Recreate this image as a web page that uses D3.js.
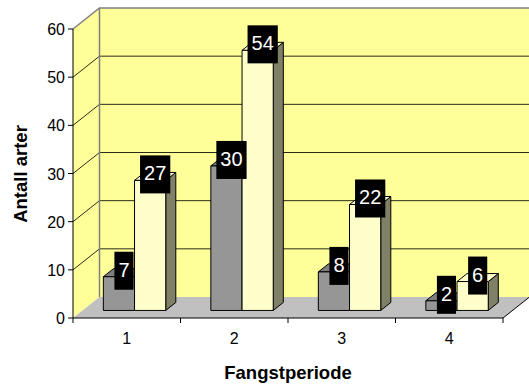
<!DOCTYPE html>
<html>
<head>
<meta charset="utf-8">
<script src="https://cdn.jsdelivr.net/npm/d3@7"></script>
<style>
  html, body { margin: 0; padding: 0; background: #fff; }
  svg { display: block; font-family: Arial, "Liberation Sans", sans-serif; }
</style>
</head>
<body>
<svg id="chart" width="529" height="385"></svg>
<script>
// Number of species per catch period, two series per period
const categories = ["1", "2", "3", "4"];
const seriesA = [7, 30, 8, 2];
const seriesB = [27, 54, 22, 6];
const yTicks = [0, 10, 20, 30, 40, 50, 60];
const xTitle = "Fangstperiode";
const yTitle = "Antall arter";

const svg = d3.select("#chart");

// Front plane of the 3-D box
const x = d3.scaleBand().domain(categories).range([73, 503]);
const y = d3.scaleLinear().domain([0, 60]).range([318, 29]);
// Inner scale that places the two columns inside one category band
const inner = d3.scaleBand().domain([0, 1]).range([20.8, 83.2]);

// Depth projection: z runs from 0 (front) to 1 (back wall)
const DX = 26.5, DY = 21;
const P = (px, py, z) => [px + z * DX, py - z * DY];
const barZ0 = 0.36, barZ1 = 0.74;

const poly = pts => "M" + pts.map(p => p.join(",")).join("L") + "Z";
const line = d3.line();

const x0 = x.range()[0], x1 = x.range()[1];
const yTop = y(60), yBot = y(0);

// Back wall
svg.append("path")
  .attr("d", poly([P(x0, yTop, 1), P(x1, yTop, 1), P(x1, yBot, 1), P(x0, yBot, 1)]))
  .attr("fill", "#ffff99");
// Left side wall
svg.append("path")
  .attr("d", poly([P(x0, yTop, 0), P(x0, yTop, 1), P(x0, yBot, 1), P(x0, yBot, 0)]))
  .attr("fill", "#ffff99");

// Gridlines on both walls
yTicks.slice(1, -1).forEach(t => {
  svg.append("path")
    .attr("d", line([P(x0, y(t), 0), P(x0, y(t), 1), P(x1, y(t), 1)]))
    .attr("fill", "none").attr("stroke", "#2b2b1a").attr("stroke-width", 1);
});

// Wall edges
svg.append("path")
  .attr("d", line([P(x0, yTop, 0), P(x0, yTop, 1), P(x1 + 2, yTop, 1)]))
  .attr("fill", "none").attr("stroke", "#808080").attr("stroke-width", 1.5);
svg.append("path")
  .attr("d", line([P(x0, yTop, 1), P(x0, yBot, 1)]))
  .attr("fill", "none").attr("stroke", "#808080").attr("stroke-width", 1.5);

// Floor
svg.append("path")
  .attr("d", poly([P(x0, yBot, 0), P(x1, yBot, 0), P(x1, yBot, 1), P(x0, yBot, 1)]))
  .attr("fill", "#c0c0c0");
svg.append("path")
  .attr("d", line([P(x1, yBot, 0), P(x1, yBot, 1)]))
  .attr("fill", "none").attr("stroke", "#000").attr("stroke-width", 1);

// Columns
const palette = [
  { front: "#969696", top: "#7d7d7d", side: "#4b4b4b" },
  { front: "#ffffcc", top: "#ffffcc", side: "#808066" }
];
const bars = [];
categories.forEach((c, ci) => {
  [seriesA[ci], seriesB[ci]].forEach((v, si) => {
    bars.push({ c, si, v });
  });
});

const gBars = svg.append("g");
bars.forEach(b => {
  const L = x(b.c) + inner(b.si);
  const R = L + inner.bandwidth();
  const T = y(b.v), B = y(0);
  const col = palette[b.si];
  const g = gBars.append("g").attr("stroke", "#000").attr("stroke-width", 1).attr("stroke-linejoin", "round");
  g.append("path")
    .attr("d", poly([P(R, T, barZ0), P(R, T, barZ1), P(R, B, barZ1), P(R, B, barZ0)]))
    .attr("fill", col.side);
  g.append("path")
    .attr("d", poly([P(L, T, barZ0), P(R, T, barZ0), P(R, T, barZ1), P(L, T, barZ1)]))
    .attr("fill", col.top);
  g.append("path")
    .attr("d", poly([P(L, T, barZ0), P(R, T, barZ0), P(R, B, barZ0), P(L, B, barZ0)]))
    .attr("fill", col.front);
});

// Y axis
svg.append("line")
  .attr("x1", x0).attr("x2", x0).attr("y1", yTop).attr("y2", yBot)
  .attr("stroke", "#000").attr("stroke-width", 1);
const gy = svg.append("g");
yTicks.forEach(t => {
  gy.append("line").attr("x1", x0 - 5).attr("x2", x0).attr("y1", y(t)).attr("y2", y(t))
    .attr("stroke", "#000");
  gy.append("text").attr("x", x0 - 8).attr("y", y(t) + 6)
    .attr("text-anchor", "end").attr("font-size", 16).attr("fill", "#000").text(t);
});

// X axis along the floor front edge
svg.append("line")
  .attr("x1", x0).attr("x2", x1).attr("y1", yBot).attr("y2", yBot)
  .attr("stroke", "#000").attr("stroke-width", 1);
const gx = svg.append("g");
categories.concat([null]).forEach(c => {
  const px = c === null ? x1 : x(c);
  gx.append("line").attr("x1", px).attr("x2", px).attr("y1", yBot).attr("y2", yBot + 5)
    .attr("stroke", "#000");
});
categories.forEach(c => {
  gx.append("text").attr("x", x(c) + x.bandwidth() / 2).attr("y", 344)
    .attr("text-anchor", "middle").attr("font-size", 16).attr("fill", "#000").text(c);
});

// Data labels: black boxes centred on each column's top face
const gLab = svg.append("g");
bars.forEach(b => {
  const L = x(b.c) + inner(b.si);
  const [cx, cyTop] = P(L + inner.bandwidth() / 2, y(b.v), (barZ0 + barZ1) / 2);
  const cy = cyTop - 2;
  const t = gLab.append("text").attr("x", cx).attr("y", cy + 6)
    .attr("text-anchor", "middle").attr("font-size", 20).attr("fill", "#fff").text(b.v);
  const w = t.node().getComputedTextLength() + 8;
  gLab.insert("rect", () => t.node())
    .attr("x", cx - w / 2).attr("y", cy - 19).attr("width", w).attr("height", 38)
    .attr("fill", "#000");
});

// Axis titles
svg.append("text").attr("x", 288).attr("y", 379)
  .attr("text-anchor", "middle").attr("font-size", 18.5).attr("font-weight", "bold")
  .attr("fill", "#000").text(xTitle);
svg.append("text").attr("transform", "translate(27,174) rotate(-90)")
  .attr("text-anchor", "middle").attr("font-size", 18.5).attr("font-weight", "bold")
  .attr("fill", "#000").text(yTitle);
</script>
</body>
</html>
